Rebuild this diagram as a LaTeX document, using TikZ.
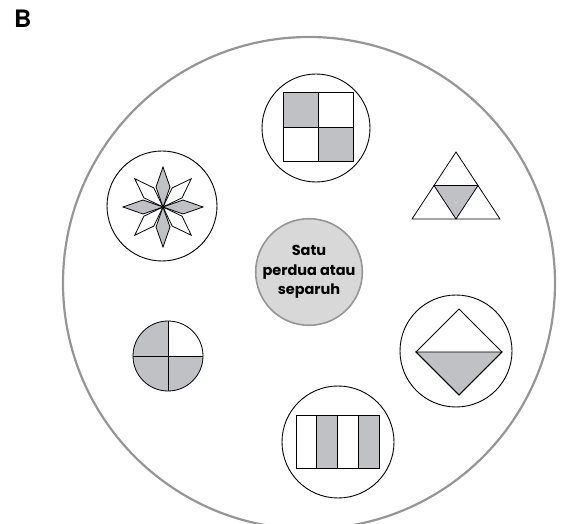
\documentclass[tikz,border=0pt]{standalone}
\usepackage{fontspec}
\setmainfont{Poppins}
\newfontfamily\heros{TeX Gyre Heros}
\definecolor{fgray}{RGB}{192,193,196}
\definecolor{cgray}{RGB}{216,216,216}
\definecolor{ringgray}{RGB}{150,150,152}
\begin{document}
\begin{tikzpicture}[x=1pt,y=-1pt,
  ring/.style={circle, draw=black, line width=0.9pt, inner sep=0pt, fill=white},
  part/.style={draw=black, line width=0.8pt, line join=miter},
  shade/.style={part, fill=fgray}]
\useasboundingbox (0,0) rectangle (574,524);
\begin{scope}
\clip (0,0) rectangle (574,524);
\node[circle, draw=ringgray, line width=2.2pt, minimum size=492pt, inner sep=0pt] (outer) at (309,283) {};
\end{scope}
\node[font=\heros\bfseries\fontsize{24}{24}\selectfont, anchor=base west, inner sep=0pt] (lbl) at (14,28) {B};

% centre
\node[circle, draw=ringgray, fill=cgray, line width=1.6pt, minimum size=106pt, inner sep=0pt, align=center,
      font=\bfseries\fontsize{14.5}{19.5}\selectfont] (center) at (309,272) {Satu\\perdua atau\\separuh};

% top: square
\node[ring, minimum size=108pt] (c1) at (316,128) {};
\fill[fgray] (283,92) rectangle (318,127);
\fill[fgray] (318,127) rectangle (353,161);
\draw[part] (283,92) rectangle (353,161);
\draw[part] (318,92) -- (318,161);
\draw[part] (283,127) -- (353,127);

% star
\node[ring, minimum size=110pt] (c2) at (162,206) {};
\begin{scope}[shift={(163,207)}]
\foreach \a in {45,135,225,315}{
  \draw[part, fill=white, rotate=\a] (0,0) -- (20,7) -- (40,0) -- (20,-7) -- cycle;}
\foreach \a in {0,90,180,270}{
  \draw[shade, rotate=\a] (0,0) -- (20,7) -- (40,0) -- (20,-7) -- cycle;}
\end{scope}

% triangle
\coordinate (t1) at (456,152);
\coordinate (t2) at (500,219);
\coordinate (t3) at (412,219);
\draw[part] (t1) -- (t2) -- (t3) -- cycle;
\draw[shade] (434,185.5) -- (478,185.5) -- (456,219) -- cycle;

% diamond
\node[ring, minimum size=112pt] (c4) at (456,351) {};
\draw[shade] (416,352) -- (502,352) -- (459,395) -- cycle;
\draw[part] (459,309) -- (502,352) -- (459,395) -- (416,352) -- cycle;

% stripes
\node[ring, minimum size=112pt] (c5) at (338,442) {};
\fill[fgray] (316.75,415) rectangle (337.5,468);
\fill[fgray] (358.25,415) rectangle (379,468);
\draw[part] (296,415) rectangle (379,468);
\foreach \x in {316.75,337.5,358.25} \draw[part] (\x,415) -- (\x,468);

% quartered circle
\node[circle, fill=fgray, minimum size=70pt, inner sep=0pt] (q) at (168,356) {};
\fill[white] (168,356) -- (203,356) arc[start angle=0, end angle=-90, radius=35] -- cycle;
\draw[part] (133,356) -- (203,356);
\draw[part] (168,321) -- (168,391);
\draw[part] (168,356) circle[radius=35];
\end{tikzpicture}
\end{document}
